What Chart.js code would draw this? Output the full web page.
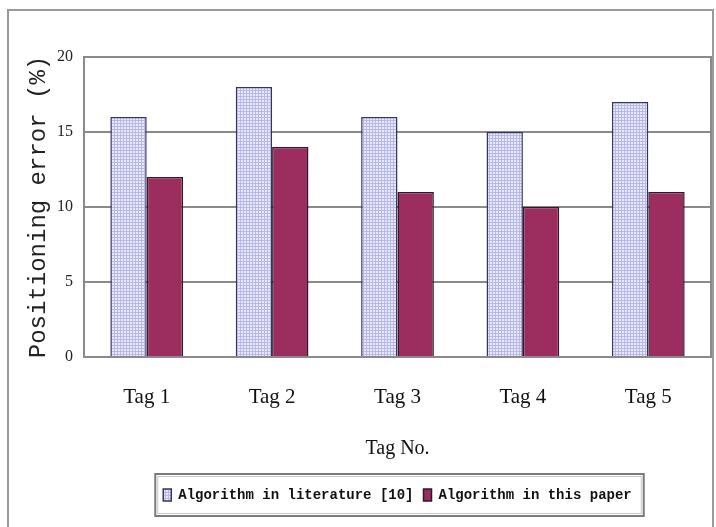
<!DOCTYPE html>
<html>
<head>
<meta charset="utf-8">
<script src="https://cdn.jsdelivr.net/npm/chart.js@4.4.1/dist/chart.umd.min.js"></script>
<style>
  html, body { margin: 0; padding: 0; background: #fff; }
  #wrap { width: 716px; height: 527px; }
</style>
</head>
<body>
<div id="wrap"><canvas id="c" width="716" height="527"></canvas></div>
<script>
// data
const tags = ['Tag 1', 'Tag 2', 'Tag 3', 'Tag 4', 'Tag 5'];
const literature = [16, 18, 16, 15, 17];
const thisPaper = [12, 14, 11, 10, 11];
const yTicks = [0, 5, 10, 15, 20];

const canvas = document.getElementById('c');
const ctx = canvas.getContext('2d');

// light lavender checked fill like the old office chart
function checkPattern() {
  const p = document.createElement('canvas');
  p.width = 3; p.height = 3;
  const g = p.getContext('2d');
  g.fillStyle = '#e8e8ff';
  g.fillRect(0, 0, 3, 3);
  g.fillStyle = '#b8b8e8';
  g.fillRect(0, 0, 3, 1);
  g.fillRect(0, 0, 1, 3);
  return ctx.createPattern(p, 'repeat');
}

const gray = '#8a8a8a';

// frame round the figure, plot border and legend box
const decor = {
  id: 'decor',
  beforeDraw(chart) {
    const c = chart.ctx;
    c.save();
    c.fillStyle = '#fff';
    c.fillRect(0, 0, chart.width, chart.height);
    c.strokeStyle = '#9a9a9a';
    c.lineWidth = 2;
    c.strokeRect(8, 10, 705, 530);
    c.restore();
  },
  afterDraw(chart) {
    const c = chart.ctx;
    const a = chart.chartArea;
    c.save();
    c.strokeStyle = gray;
    c.lineWidth = 2;
    c.strokeRect(a.left, a.top, a.right - a.left, a.bottom - a.top);
    const hb = chart.legend.legendHitBoxes;
    if (hb && hb.length) {
      const l = Math.min(...hb.map(h => h.left)) - 8;
      const r = Math.max(...hb.map(h => h.left + h.width)) + 12;
      const cy = hb[0].top + hb[0].height / 2;
      c.strokeStyle = '#7a7a7a';
      c.strokeRect(l, cy - 21, r - l, 42);
      c.strokeStyle = '#c8c8c8';
      c.lineWidth = 1;
      c.strokeRect(l + 2.5, cy - 18.5, r - l - 5, 37);
    }
    c.restore();
  }
};

new Chart(canvas, {
  type: 'bar',
  data: {
    labels: tags,
    datasets: [{
      label: 'Algorithm in literature [10]',
      data: literature,
      backgroundColor: checkPattern(),
      borderColor: '#34345e',
      borderWidth: 1.5,
      borderSkipped: 'bottom'
    }, {
      label: 'Algorithm in this paper',
      data: thisPaper,
      backgroundColor: '#9b2d5f',
      borderColor: '#33182a',
      borderWidth: 1.5,
      borderSkipped: 'bottom'
    }]
  },
  options: {
    responsive: false,
    animation: false,
    layout: { padding: { left: 8, right: 5, top: 57, bottom: 15 } },
    datasets: { bar: { categoryPercentage: 0.58, barPercentage: 1 } },
    plugins: {
      tooltip: { enabled: false },
      legend: {
        position: 'bottom',
        fullSize: false,
        labels: {
          color: '#111',
          font: { family: 'Liberation Mono', size: 14, weight: 'bold' },
          boxWidth: 8,
          boxHeight: 12,
          padding: 10
        }
      }
    },
    scales: {
      x: {
        grid: { display: false, drawTicks: false },
        border: { color: gray, width: 2 },
        ticks: {
          color: '#111',
          font: { family: 'Liberation Serif', size: 21 },
          padding: 28
        },
        title: {
          display: true,
          text: 'Tag No.',
          color: '#111',
          font: { family: 'Liberation Serif', size: 20 },
          padding: { top: 0, bottom: 17 }
        },
        afterFit(scale) { scale.height = 121; }
      },
      y: {
        min: 0,
        max: 20,
        afterBuildTicks(scale) { scale.ticks = yTicks.map(v => ({ value: v })); },
        grid: { color: gray, lineWidth: 2, drawTicks: false },
        border: { color: gray, width: 2 },
        ticks: {
          color: '#222',
          font: { family: 'Liberation Serif', size: 16 },
          padding: 11
        },
        title: {
          display: true,
          text: 'Positioning error (%)',
          color: '#222',
          font: { family: 'Liberation Mono', size: 24 },
          padding: { top: 16, bottom: 0 }
        },
        afterFit(scale) { scale.width = 76; }
      }
    }
  },
  plugins: [decor]
});
</script>
</body>
</html>
